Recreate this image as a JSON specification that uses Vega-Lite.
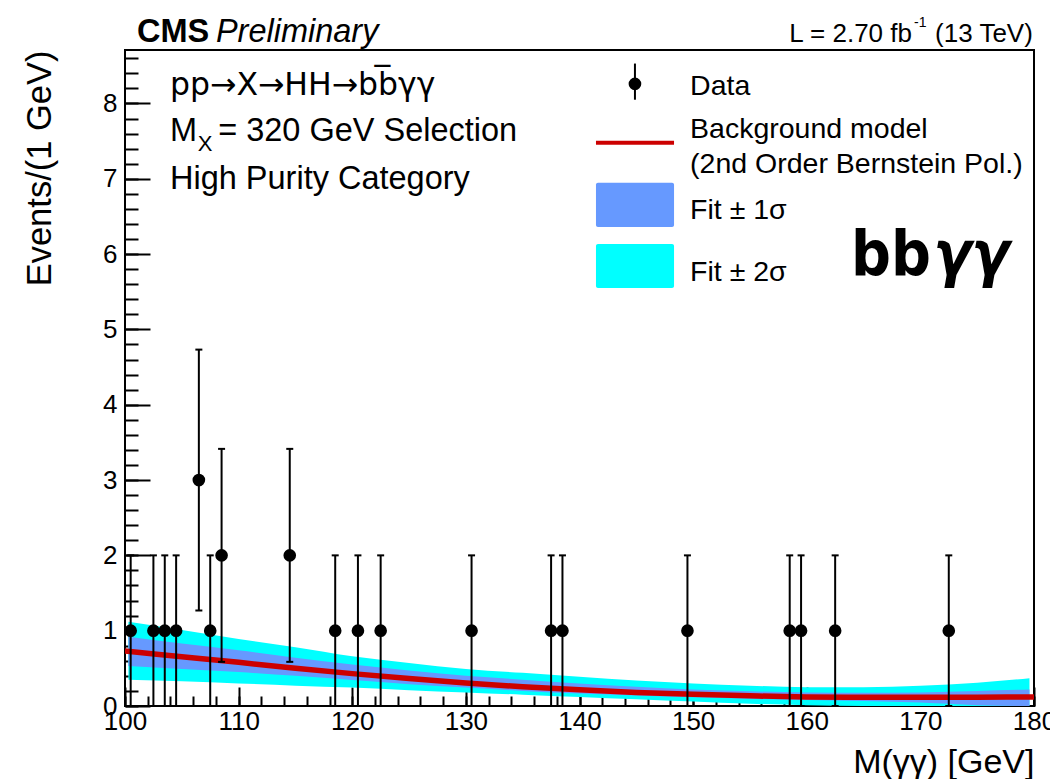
{
  "$schema": "https://vega.github.io/schema/vega-lite/v6.json",
  "width": 909,
  "height": 656,
  "autosize": "none",
  "padding": {"left": 125, "top": 50, "right": 16, "bottom": 73},
  "background": "white",
  "data": {"values": [{}]},
  "config": {
    "font": "Liberation Sans",
    "view": {"stroke": "black", "strokeWidth": 2},
    "scale": {"continuousPadding": 0},
    "axis": {
      "grid": false,
      "domain": false,
      "labelFlush": false,
      "tickColor": "black",
      "tickWidth": 2,
      "labelColor": "black",
      "titleColor": "black",
      "labelFont": "Liberation Sans",
      "titleFont": "Liberation Sans",
      "titleFontWeight": "normal"
    },
    "text": {"font": "Liberation Sans", "color": "black"}
  },
  "datasets": {
    "band": [
      {"m": 100.3, "c_lo": 0.35, "c_hi": 1.12, "b_lo": 0.53, "b_hi": 0.92},
      {"m": 105, "c_lo": 0.33, "c_hi": 1.01, "b_lo": 0.49, "b_hi": 0.83},
      {"m": 110, "c_lo": 0.30, "c_hi": 0.89, "b_lo": 0.45, "b_hi": 0.74},
      {"m": 115, "c_lo": 0.27, "c_hi": 0.78, "b_lo": 0.40, "b_hi": 0.64},
      {"m": 120, "c_lo": 0.245, "c_hi": 0.66, "b_lo": 0.345, "b_hi": 0.55},
      {"m": 125, "c_lo": 0.21, "c_hi": 0.57, "b_lo": 0.29, "b_hi": 0.47},
      {"m": 130, "c_lo": 0.18, "c_hi": 0.49, "b_lo": 0.245, "b_hi": 0.40},
      {"m": 135, "c_lo": 0.15, "c_hi": 0.44, "b_lo": 0.20, "b_hi": 0.35},
      {"m": 140, "c_lo": 0.12, "c_hi": 0.39, "b_lo": 0.165, "b_hi": 0.30},
      {"m": 145, "c_lo": 0.09, "c_hi": 0.34, "b_lo": 0.14, "b_hi": 0.255},
      {"m": 150, "c_lo": 0.06, "c_hi": 0.30, "b_lo": 0.115, "b_hi": 0.22},
      {"m": 155, "c_lo": 0.03, "c_hi": 0.27, "b_lo": 0.095, "b_hi": 0.195},
      {"m": 160, "c_lo": 0.01, "c_hi": 0.25, "b_lo": 0.08, "b_hi": 0.18},
      {"m": 165, "c_lo": 0.0, "c_hi": 0.25, "b_lo": 0.065, "b_hi": 0.175},
      {"m": 170, "c_lo": 0.0, "c_hi": 0.27, "b_lo": 0.045, "b_hi": 0.18},
      {"m": 175, "c_lo": 0.0, "c_hi": 0.31, "b_lo": 0.01, "b_hi": 0.20},
      {"m": 179.6, "c_lo": 0.0, "c_hi": 0.37, "b_lo": 0.0, "b_hi": 0.22}
    ],
    "fit": [
      {"m": 100, "bkg": 0.73},
      {"m": 105, "bkg": 0.655},
      {"m": 110, "bkg": 0.58},
      {"m": 115, "bkg": 0.50},
      {"m": 120, "bkg": 0.43},
      {"m": 125, "bkg": 0.365},
      {"m": 130, "bkg": 0.305},
      {"m": 135, "bkg": 0.255},
      {"m": 140, "bkg": 0.215},
      {"m": 145, "bkg": 0.18},
      {"m": 150, "bkg": 0.155},
      {"m": 155, "bkg": 0.135},
      {"m": 160, "bkg": 0.12},
      {"m": 165, "bkg": 0.115},
      {"m": 170, "bkg": 0.115},
      {"m": 175, "bkg": 0.117},
      {"m": 180, "bkg": 0.12}
    ],
    "events": [
      {"m": 100.5, "n": 1, "lo": 0, "hi": 2},
      {"m": 102.5, "n": 1, "lo": 0, "hi": 2},
      {"m": 103.5, "n": 1, "lo": 0, "hi": 2},
      {"m": 104.5, "n": 1, "lo": 0, "hi": 2},
      {"m": 106.5, "n": 3, "lo": 1.268, "hi": 4.732},
      {"m": 107.5, "n": 1, "lo": 0, "hi": 2},
      {"m": 108.5, "n": 2, "lo": 0.586, "hi": 3.414},
      {"m": 114.5, "n": 2, "lo": 0.586, "hi": 3.414},
      {"m": 118.5, "n": 1, "lo": 0, "hi": 2},
      {"m": 120.5, "n": 1, "lo": 0, "hi": 2},
      {"m": 122.5, "n": 1, "lo": 0, "hi": 2},
      {"m": 130.5, "n": 1, "lo": 0, "hi": 2},
      {"m": 137.5, "n": 1, "lo": 0, "hi": 2},
      {"m": 138.5, "n": 1, "lo": 0, "hi": 2},
      {"m": 149.5, "n": 1, "lo": 0, "hi": 2},
      {"m": 158.5, "n": 1, "lo": 0, "hi": 2},
      {"m": 159.5, "n": 1, "lo": 0, "hi": 2},
      {"m": 162.5, "n": 1, "lo": 0, "hi": 2},
      {"m": 172.5, "n": 1, "lo": 0, "hi": 2}
    ]
  },
  "resolve": {"axis": {"x": "independent", "y": "independent"}},
  "layer": [
    {
      "data": {"name": "band"},
      "mark": {"type": "area", "color": "#00ffff", "interpolate": "monotone", "clip": true},
      "encoding": {
        "x": {"field": "m", "type": "quantitative",
              "scale": {"domain": [100, 180], "nice": false, "zero": false, "padding": 0},
              "axis": {"orient": "bottom", "values": [100,102,104,106,108,110,112,114,116,118,120,122,124,126,128,130,132,134,136,138,140,142,144,146,148,150,152,154,156,158,160,162,164,166,168,170,172,174,176,178,180],
                       "tickSize": -10, "labels": false, "title": null}},
        "y": {"field": "c_lo", "type": "quantitative",
              "scale": {"domain": [0, 8.71], "nice": false, "zero": false, "padding": 0},
              "axis": {"orient": "left", "values": [0,0.2,0.4,0.6,0.8,1,1.2,1.4,1.6,1.8,2,2.2,2.4,2.6,2.8,3,3.2,3.4,3.6,3.8,4,4.2,4.4,4.6,4.8,5,5.2,5.4,5.6,5.8,6,6.2,6.4,6.6,6.8,7,7.2,7.4,7.6,7.8,8,8.2,8.4,8.6],
                       "tickSize": -13, "labels": false, "title": null}},
        "y2": {"field": "c_hi"}
      }
    },
    {
      "data": {"name": "band"},
      "mark": {"type": "area", "color": "#6699ff", "interpolate": "monotone", "clip": true},
      "encoding": {
        "x": {"field": "m", "type": "quantitative", "axis": null},
        "y": {"field": "b_lo", "type": "quantitative", "axis": null},
        "y2": {"field": "b_hi"}
      }
    },
    {
      "data": {"name": "fit"},
      "mark": {"type": "line", "color": "#cc0000", "strokeWidth": 5.5, "interpolate": "monotone", "clip": true},
      "encoding": {
        "x": {"field": "m", "type": "quantitative", "axis": null},
        "y": {"field": "bkg", "type": "quantitative", "axis": null}
      }
    },
    {
      "data": {"name": "events"},
      "mark": {"type": "rule", "color": "black", "strokeWidth": 2},
      "encoding": {
        "x": {"field": "m", "type": "quantitative", "axis": null},
        "y": {"field": "lo", "type": "quantitative", "axis": null},
        "y2": {"field": "hi"}
      }
    },
    {
      "data": {"name": "events"},
      "mark": {"type": "tick", "orient": "horizontal", "color": "black", "size": 7, "thickness": 2, "opacity": 1},
      "encoding": {
        "x": {"field": "m", "type": "quantitative", "axis": null},
        "y": {"field": "hi", "type": "quantitative", "axis": null}
      }
    },
    {
      "data": {"name": "events"},
      "mark": {"type": "tick", "orient": "horizontal", "color": "black", "size": 7, "thickness": 2, "opacity": 1},
      "encoding": {
        "x": {"field": "m", "type": "quantitative", "axis": null},
        "y": {"field": "lo", "type": "quantitative", "axis": null}
      }
    },
    {
      "data": {"name": "events"},
      "mark": {"type": "circle", "color": "black", "size": 160, "opacity": 1},
      "encoding": {
        "x": {"field": "m", "type": "quantitative",
              "axis": {"orient": "bottom", "values": [100,110,120,130,140,150,160,170,180],
                       "tickSize": -19, "labelFontSize": 26, "labelPadding": 21,
                       "title": "M(γγ) [GeV]", "titleFontSize": 34,
                       "titleX": 909, "titleY": 66, "titleAlign": "right", "titleBaseline": "alphabetic"}},
        "y": {"field": "n", "type": "quantitative",
              "axis": {"orient": "left", "values": [0,1,2,3,4,5,6,7,8],
                       "tickSize": -25, "labelFontSize": 26, "labelPadding": 33,
                       "title": "Events/(1 GeV)", "titleFontSize": 34.5, "titleAngle": -90,
                       "titleX": -75, "titleY": 0, "titleAlign": "right", "titleBaseline": "alphabetic"}}
      }
    },
    {
      "mark": {"type": "text", "text": "CMS", "fontWeight": "bold", "fontSize": 32.5, "align": "left", "baseline": "alphabetic"},
      "encoding": {"x": {"datum": 101.06, "axis": null}, "y": {"datum": 8.818, "axis": null}}
    },
    {
      "mark": {"type": "text", "text": "Preliminary", "fontStyle": "italic", "fontSize": 32.5, "align": "left", "baseline": "alphabetic"},
      "encoding": {"x": {"datum": 108.0, "axis": null}, "y": {"datum": 8.818, "axis": null}}
    },
    {
      "mark": {"type": "text", "text": "L = 2.70 fb", "fontSize": 26, "align": "right", "baseline": "alphabetic"},
      "encoding": {"x": {"datum": 169.26, "axis": null}, "y": {"datum": 8.82, "axis": null}}
    },
    {
      "mark": {"type": "text", "text": "-1", "fontSize": 14, "align": "left", "baseline": "alphabetic"},
      "encoding": {"x": {"datum": 169.44, "axis": null}, "y": {"datum": 9.01, "axis": null}}
    },
    {
      "mark": {"type": "text", "text": "(13 TeV)", "fontSize": 26, "align": "right", "baseline": "alphabetic"},
      "encoding": {"x": {"datum": 179.9, "axis": null}, "y": {"datum": 8.82, "axis": null}}
    },
    {
      "mark": {"type": "text", "text": "pp→X→HH→bb̅γγ", "font": "DejaVu Sans", "fontSize": 31.5, "align": "left", "baseline": "alphabetic"},
      "encoding": {"x": {"datum": 103.96, "axis": null}, "y": {"datum": 8.11, "axis": null}}
    },
    {
      "mark": {"type": "text", "text": "M", "fontSize": 32.5, "align": "left", "baseline": "alphabetic"},
      "encoding": {"x": {"datum": 103.96, "axis": null}, "y": {"datum": 7.50, "axis": null}}
    },
    {
      "mark": {"type": "text", "text": "X", "fontSize": 22, "align": "left", "baseline": "alphabetic"},
      "encoding": {"x": {"datum": 106.4, "axis": null}, "y": {"datum": 7.37, "axis": null}}
    },
    {
      "mark": {"type": "text", "text": "= 320 GeV Selection", "fontSize": 32.5, "align": "left", "baseline": "alphabetic"},
      "encoding": {"x": {"datum": 108.2, "axis": null}, "y": {"datum": 7.50, "axis": null}}
    },
    {
      "mark": {"type": "text", "text": "High Purity Category", "fontSize": 32.5, "align": "left", "baseline": "alphabetic"},
      "encoding": {"x": {"datum": 103.96, "axis": null}, "y": {"datum": 6.87, "axis": null}}
    },
    {
      "mark": {"type": "rule", "color": "black", "strokeWidth": 2},
      "encoding": {"x": {"datum": 144.88, "axis": null}, "y": {"datum": 8.05, "axis": null}, "y2": {"datum": 8.53}}
    },
    {
      "mark": {"type": "point", "shape": "circle", "filled": true, "color": "black", "size": 160, "opacity": 1},
      "encoding": {"x": {"datum": 144.88, "axis": null}, "y": {"datum": 8.26, "axis": null}}
    },
    {
      "mark": {"type": "text", "text": "Data", "fontSize": 28.5, "align": "left", "baseline": "alphabetic"},
      "encoding": {"x": {"datum": 149.73, "axis": null}, "y": {"datum": 8.11, "axis": null}}
    },
    {
      "mark": {"type": "rule", "color": "#cc0000", "strokeWidth": 4},
      "encoding": {"x": {"datum": 141.45, "axis": null}, "x2": {"datum": 148.32}, "y": {"datum": 7.477, "axis": null}}
    },
    {
      "mark": {"type": "text", "text": "Background model", "fontSize": 28.5, "align": "left", "baseline": "alphabetic"},
      "encoding": {"x": {"datum": 149.73, "axis": null}, "y": {"datum": 7.543, "axis": null}}
    },
    {
      "mark": {"type": "text", "text": "(2nd Order Bernstein Pol.)", "fontSize": 28.5, "align": "left", "baseline": "alphabetic"},
      "encoding": {"x": {"datum": 149.73, "axis": null}, "y": {"datum": 7.078, "axis": null}}
    },
    {
      "mark": {"type": "rect", "color": "#6699ff", "cornerRadius": 2},
      "encoding": {"x": {"datum": 141.45, "axis": null}, "x2": {"datum": 148.32}, "y": {"datum": 6.361, "axis": null}, "y2": {"datum": 6.946}}
    },
    {
      "mark": {"type": "text", "text": "Fit ± 1σ", "fontSize": 28.5, "align": "left", "baseline": "alphabetic"},
      "encoding": {"x": {"datum": 149.73, "axis": null}, "y": {"datum": 6.467, "axis": null}}
    },
    {
      "mark": {"type": "rect", "color": "#00ffff", "cornerRadius": 2},
      "encoding": {"x": {"datum": 141.45, "axis": null}, "x2": {"datum": 148.32}, "y": {"datum": 5.551, "axis": null}, "y2": {"datum": 6.135}}
    },
    {
      "mark": {"type": "text", "text": "Fit ± 2σ", "fontSize": 28.5, "align": "left", "baseline": "alphabetic"},
      "encoding": {"x": {"datum": 149.73, "axis": null}, "y": {"datum": 5.644, "axis": null}}
    },
    {
      "mark": {"type": "text", "text": "bb", "font": "DejaVu Sans Condensed", "fontWeight": "bold", "fontSize": 62, "align": "left", "baseline": "alphabetic"},
      "encoding": {"x": {"datum": 163.9, "axis": null}, "y": {"datum": 5.724, "axis": null}}
    },
    {
      "mark": {"type": "text", "text": "γγ", "font": "DejaVu Sans Condensed", "fontWeight": "bold", "fontStyle": "italic", "fontSize": 62, "align": "left", "baseline": "alphabetic"},
      "encoding": {"x": {"datum": 171.15, "axis": null}, "y": {"datum": 5.724, "axis": null}}
    }
  ]
}
